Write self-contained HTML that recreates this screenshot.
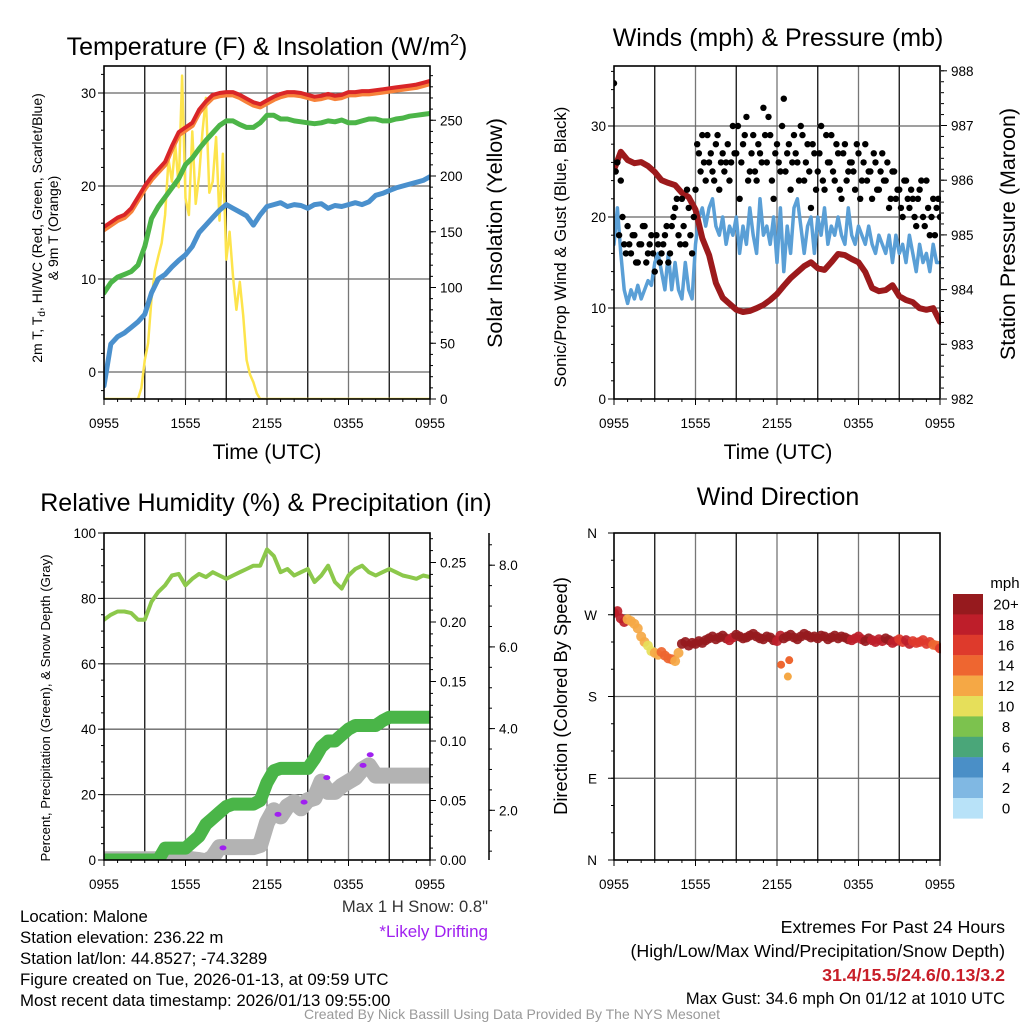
<!DOCTYPE html>
<html><head><meta charset="utf-8"><style>
html,body{margin:0;padding:0;background:#fff;}
svg{display:block;font-family:"Liberation Sans",sans-serif;}
</style></head><body>
<svg id="c" width="1024" height="1024" viewBox="0 0 1024 1024" xmlns="http://www.w3.org/2000/svg">
<defs>
<clipPath id="clip1"><rect x="104" y="66" width="326" height="333"/></clipPath>
<clipPath id="clip2"><rect x="614" y="66" width="327" height="333"/></clipPath>
<clipPath id="clip3"><rect x="104" y="533" width="326" height="327"/></clipPath>
<clipPath id="clip4"><rect x="614" y="533" width="327" height="327"/></clipPath>
</defs>
<rect x="0" y="0" width="1024" height="1024" fill="#fff"/>
<!-- titles -->
<text x="267" y="55" font-size="25" text-anchor="middle">Temperature (F) &amp; Insolation (W/m<tspan dy="-10" font-size="16">2</tspan><tspan dy="10">)</tspan></text>
<text x="778" y="46" font-size="25" text-anchor="middle">Winds (mph) &amp; Pressure (mb)</text>
<text x="266" y="511" font-size="25" text-anchor="middle">Relative Humidity (%) &amp; Precipitation (in)</text>
<text x="778" y="505" font-size="25" text-anchor="middle">Wind Direction</text>
<!-- axis titles -->
<text x="267" y="459" font-size="21" text-anchor="middle">Time (UTC)</text>
<text x="778" y="459" font-size="21" text-anchor="middle">Time (UTC)</text>
<text transform="translate(42,228) rotate(-90)" font-size="14" text-anchor="middle">2m T, T<tspan dy="3" font-size="10">d</tspan><tspan dy="-3">, HI/WC (Red, Green, Scarlet/Blue)</tspan></text>
<text transform="translate(58,228) rotate(-90)" font-size="14" text-anchor="middle">&amp; 9m T (Orange)</text>
<text transform="translate(502,233) rotate(-90)" font-size="21.5" text-anchor="middle">Solar Insolation (Yellow)</text>
<text transform="translate(566,247) rotate(-90)" font-size="16.8" text-anchor="middle">Sonic/Prop Wind &amp; Gust (Blue, Black)</text>
<text transform="translate(1015,234) rotate(-90)" font-size="21.5" text-anchor="middle">Station Pressure (Maroon)</text>
<text transform="translate(50,708) rotate(-90)" font-size="13.2" text-anchor="middle">Percent, Precipitation (Green), &amp; Snow Depth (Gray)</text>
<text transform="translate(567,696) rotate(-90)" font-size="18.3" text-anchor="middle">Direction (Colored By Speed)</text>
<!-- footer -->
<g font-size="16.8">
<text x="20" y="922">Location: Malone</text>
<text x="20" y="943">Station elevation: 236.22 m</text>
<text x="20" y="964">Station lat/lon: 44.8527; -74.3289</text>
<text x="20" y="985">Figure created on Tue, 2026-01-13, at 09:59 UTC</text>
<text x="20" y="1006">Most recent data timestamp: 2026/01/13 09:55:00</text>
</g>
<text x="488" y="912" font-size="16.6" text-anchor="end" fill="#333">Max 1 H Snow: 0.8"</text>
<text x="488" y="937" font-size="17" text-anchor="end" fill="#a020f0">*Likely Drifting</text>
<g font-size="17.8" text-anchor="end">
<text x="1005" y="933">Extremes For Past 24 Hours</text>
<text x="1005" y="957">(High/Low/Max Wind/Precipitation/Snow Depth)</text>
<text x="1005" y="981" fill="#c81e28" font-weight="bold">31.4/15.5/24.6/0.13/3.2</text>
<text x="1005" y="1004" font-size="16.5">Max Gust: 34.6 mph On 01/12 at 1010 UTC</text>
</g>
<text x="512" y="1019" font-size="14" text-anchor="middle" fill="#999">Created By Nick Bassill Using Data Provided By The NYS Mesonet</text>
<g id="g"></g>
</svg>
<script>
// ---- data (index-based, evenly spaced over 24 h from 0955 to 0955) ----
const timeLabels = ["0955","1555","2155","0355","0955"];
const tempRed = [15.6,16.1,16.6,16.9,17.6,18.8,20.0,21.0,21.8,22.6,24.3,25.8,26.3,26.8,28.2,29.1,29.8,30.0,30.1,30.1,29.8,29.4,29.0,28.8,29.2,29.6,29.9,30.1,30.1,30.0,29.8,29.6,29.7,29.9,29.7,29.8,30.1,30.1,30.2,30.2,30.3,30.4,30.5,30.6,30.7,30.8,30.9,31.1,31.3];
const temp9m = [15.3,15.8,16.3,16.6,17.3,18.5,19.7,20.7,21.5,22.3,24.0,25.5,26.0,26.5,27.9,28.8,29.5,29.7,29.8,29.8,29.5,29.1,28.7,28.5,28.9,29.3,29.6,29.8,29.8,29.7,29.5,29.3,29.4,29.6,29.4,29.5,29.8,29.8,29.9,29.9,30.0,30.1,30.2,30.3,30.4,30.5,30.6,30.8,31.0];
const dewGreen = [8.5,9.6,10.2,10.5,10.8,11.5,13.5,16.5,17.8,18.8,19.8,20.8,22.3,23.0,24.0,24.9,25.7,26.5,27.0,27.0,26.6,26.3,26.3,26.8,27.6,27.6,27.2,27.2,27.0,26.9,26.8,26.7,26.8,27.0,26.9,27.1,26.8,26.8,27.0,27.2,27.2,27.0,27.0,27.2,27.3,27.5,27.6,27.7,27.8];
const wcBlue = [-1.5,3.0,3.8,4.2,4.8,5.4,6.2,8.5,10.0,10.5,11.3,12.0,12.6,13.5,15.0,15.8,16.6,17.4,18.0,17.6,17.2,16.8,15.8,16.9,17.8,18.0,18.2,17.8,18.0,17.9,17.6,18.0,18.1,17.6,17.9,17.8,18.0,18.2,18.0,18.3,19.0,19.2,19.5,19.8,20.0,20.2,20.4,20.6,21.0];
const insolation = [0,0,0,0,0,0,0,0,0,0,0,10,35,50,90,115,128,140,165,215,195,228,190,290,180,165,240,175,200,240,270,185,195,235,160,220,125,150,110,80,105,75,35,22,15,5,0,0,0,0,0,0,0,0,0,0,0,0,0,0,0,0,0,0,0,0,0,0,0,0,0,0,0,0,0,0,0,0,0,0,0,0,0,0,0,0,0,0,0,0,0,0,0,0,0,0,0];
const windSpeed = [17,21,16,12,10.5,12,11,12.5,11,12,13,12.5,15,16,14,12,16,12,15,12,11,15,12,11,17,20,21,19,21,22,19,18,20,17,19,18,20,16,19,17,21,18,16,22,18,19,17,20,15,21,14,19,16,21,22,19,16,19,20,16,20,18,21,17,19,18,20,18,17,21,18,17,19,18,17,19,17,16,18,17,16,18,15,18,16,17,15,18,16,14,17,15,16,14,17,15,15];
const windGust = [34.7,26,24,17,19,16,18,15,17,19,16,18,14,17,16,18,15,19,21,18,22,17,21,16,23,27,29,24,26,25,28,23,27,26,24,30,27,22,28,31,25,29,24,27,32,26,29,22,28,25,33,27,23,29,26,30,24,28,21,27,25,30,23,26,29,24,27,22,28,25,26,23,27,24,28,25,22,26,23,27,24,21,25,22,23,20,24,21,22,19,23,20,24,18,22,21,20];
const windGustB = [25,18,20,16,17,18,15,17,19,15,17,16,18,15,17,19,16,20,22,17,19,23,18,20,28,25,26,29,27,24,29,26,25,28,26,27,30,26,29,24,27,25,28,26,29,31,24,27,26,30,25,28,26,27,24,29,26,25,28,23,27,24,29,26,25,28,23,27,24,26,25,28,22,26,24,25,27,23,25,24,26,22,25,23,21,24,22,23,20,22,24,19,21,20,18,22];
const pressure = [986.19,986.52,986.37,986.31,986.33,986.26,986.15,986.00,985.95,985.91,985.77,985.69,985.46,984.94,984.63,984.12,983.85,983.74,983.63,983.59,983.61,983.66,983.72,983.81,983.92,984.07,984.21,984.32,984.43,984.50,984.39,984.36,984.50,984.65,984.63,984.56,984.50,984.32,984.03,983.97,983.99,984.08,983.88,983.81,983.77,983.66,983.63,983.66,983.41];
const rh = [73.5,75,76,76,75.5,73.5,73.5,79,82,84,87,87.5,84,86,87.5,86.5,88,87,86,87,88,89,90,90,95,93,88,89,87,88,89,85,87,90,85,83,87,89,90,88,87,88,89,88,87,86.5,86,87,86.5];
const precip = [0,0,0,0,0,0,0,0,0,0.01,0.01,0.01,0.01,0.015,0.02,0.03,0.035,0.04,0.045,0.047,0.047,0.047,0.047,0.05,0.065,0.075,0.077,0.077,0.077,0.077,0.077,0.085,0.095,0.1,0.1,0.105,0.11,0.113,0.113,0.113,0.113,0.117,0.12,0.12,0.12,0.12,0.12,0.12,0.12];
const snow = [0.8,0.8,0.8,0.8,0.8,0.8,0.8,0.8,0.8,0.8,0.83,0.83,0.83,0.8,0.78,0.75,0.85,1.1,1.1,1.1,1.1,1.1,1.1,1.15,1.7,2.0,1.85,2.1,2.2,2.05,2.25,2.3,2.7,2.45,2.45,2.6,2.7,2.8,3.0,3.1,2.85,2.85,2.85,2.85,2.85,2.85,2.85,2.85,2.85];
const driftTimes = [8.76,12.81,14.73,16.4,19.07,19.6];
const driftSnow = [1.08,1.9,2.2,2.8,3.1,3.36];
const windDir = [272,274,266,262,265,263,260,255,246,240,236,230,228,226,229,225,222,221,219,228,238,240,236,239,238,241,239,242,244,246,243,245,247,244,242,245,248,246,244,245,247,249,246,244,243,246,245,242,241,247,244,246,248,245,243,246,249,247,245,246,244,247,246,243,245,247,244,246,245,243,242,244,246,243,241,244,242,240,243,241,244,242,239,241,243,240,242,238,241,239,240,242,238,240,237,236,233];
const dirSpeed = [19,18,13,12,12,11,13,14,14,13,20,21,21,21,21,21,21,19,21,21,21,21,21,21,19,21,21,21,21,21,21,21,21,21,21,19,19,20,18,19,20,18,17,18,16,17,16,15,16];
const outTimes = [12.3,12.9,12.8];
const outDirs = [215,220,202];
const outSpeeds = [14,14,12];
const cbLabels = ["20+","18","16","14","12","10","8","6","4","2","0"];
const cbColors = ["#961a1e","#be1e2a","#de3a2c","#ee6630","#f5a845","#e6df5a","#7cc24e","#4aa679","#4a8fc7","#80b8e3","#b8e2f8"];

const NS="http://www.w3.org/2000/svg";
const root=document.getElementById('g');
function mk(tag,attrs,parent){const e=document.createElementNS(NS,tag);for(const k in attrs)e.setAttribute(k,attrs[k]);(parent||root).appendChild(e);return e;}
const W=326/24;
function tx(x0,t){return x0+t*W;}
function tAt(arr,i){return i*24/(arr.length-1);}
const yTemp=v=>372-(v)*9.3;
const yIns=v=>399-v*1.115;
const yWind=v=>399-v*9.1;
const yPres=v=>399-(v-982)*54.7;
const yRH=v=>860-v*3.27;
const yPrec=v=>860-v*1190;
const ySnow=v=>892-v*40.85;
const yDir=v=>860-v*(327/360);

function grid(x0,y0,y1,hys){
  const g=mk('g',{});
  
  
  for(let h=3;h<24;h+=3){const x=tx(x0,h);mk('line',{x1:x,y1:y0,x2:x,y2:y1,stroke:(h%6===0)?'#777':'#111','stroke-width':1.3},g);}
  hys.forEach(y=>mk('line',{x1:x0,y1:y,x2:x0+326,y2:y,stroke:'#666','stroke-width':1.3},g));
}
function frame(x0,y0,y1){const r=mk('rect',{x:x0,y:y0,width:326,height:y1-y0,fill:'none',stroke:'#000','stroke-width':1.6});
  
  }
function xAxis(x0,y1,ly){
  const g=mk('g',{'font-size':13.5,'text-anchor':'middle'});
  
  
  for(let h=0;h<=24;h++){const x=tx(x0,h);mk('line',{x1:x,y1:y1,x2:x,y2:y1+(h%6===0?6:3),stroke:'#000'},g);}
  timeLabels.forEach((l,i)=>{const t=mk('text',{x:tx(x0,i*6),y:ly},g);t.textContent=l;});
}
function yAxis(x,ticks,fy,labels,side,minor,anchorX){
  const g=mk('g',{'font-size':13.5,'text-anchor':side<0?'end':'start'});
  
  
  minor.forEach(v=>mk('line',{x1:x,y1:fy(v),x2:x+side*3,y2:fy(v),stroke:'#000'},g));
  ticks.forEach((v,i)=>{const y=fy(v);mk('line',{x1:x,y1:y,x2:x+side*6,y2:y,stroke:'#000'},g);
    const t=mk('text',{x:anchorX,y:y+5},g);t.textContent=labels[i];});
}
function path(arr,x0,fy,attrs,clip,name){
  let d='';arr.forEach((v,i)=>{d+=(i?'L':'M')+tx(x0,tAt(arr,i)).toFixed(1)+','+fy(v).toFixed(1);});
  const p=mk('path',Object.assign({d:d,fill:'none','stroke-linejoin':'round','stroke-linecap':'round','clip-path':'url(#'+clip+')'},attrs));
  
  
  return p;
}
function range(a,b,s){const r=[];for(let v=a;v<=b+1e-9;v+=s)r.push(+v.toFixed(4));return r;}

// ---------- Panel 1 ----------
grid(104,66,399,[0,10,20,30].map(yTemp));
path(insolation,104,yIns,{stroke:'#fde44c','stroke-width':2.5},'clip1','insolation-line');
path(wcBlue,104,yTemp,{stroke:'#4a90cd','stroke-width':5},'clip1','windchill-line');
path(dewGreen,104,yTemp,{stroke:'#4cb548','stroke-width':5},'clip1','dewpoint-line');
path(temp9m,104,yTemp,{stroke:'#f7823a','stroke-width':5},'clip1','temp-9m-line');
path(tempRed,104,yTemp,{stroke:'#d92528','stroke-width':4},'clip1','temp-2m-line');
frame(104,66,399);
xAxis(104,399,428);
yAxis(104,[0,10,20,30],yTemp,["0","10","20","30"],-1,range(-2,32,2),96);
yAxis(430,[0,50,100,150,200,250],yIns,["0","50","100","150","200","250"],1,range(0,290,10),440);

// ---------- Panel 2 ----------
grid(614,66,399,[10,20,30].map(yWind));
path(windSpeed,614,yWind,{stroke:'#5a9fd6','stroke-width':3.5},'clip2','wind-speed-line');
path(pressure,614,yPres,{stroke:'#9c1a1c','stroke-width':6},'clip2','pressure-line');
const gg=mk('g',{'clip-path':'url(#clip2)'});


windGust.forEach((v,i)=>{const c=mk('circle',{cx:tx(614,tAt(windGust,i)),cy:yWind(v),r:3.2,fill:'#000'},gg);
  
  });
windGustB.forEach((v,i)=>{const c=mk('circle',{cx:tx(614,(i+0.5)*24/windGustB.length),cy:yWind(v),r:3.2,fill:'#000'},gg);
  
  });
frame(614,66,399);
xAxis(614,399,428);
yAxis(614,[0,10,20,30],yWind,["0","10","20","30"],-1,range(0,36,2),606);
yAxis(941,[982,983,984,985,986,987,988],yPres,["982","983","984","985","986","987","988"],1,range(982,988,0.2),951);

// ---------- Panel 3 ----------
grid(104,533,860,[20,40,60,80].map(yRH));
path(snow,104,ySnow,{stroke:'#b3b3b3','stroke-width':16},'clip3','snow-depth-line');
path(precip,104,yPrec,{stroke:'#4ab548','stroke-width':13},'clip3','precip-line');
path(rh,104,yRH,{stroke:'#8cc84b','stroke-width':4},'clip3','humidity-line');
driftTimes.forEach((t,i)=>{const e=mk('ellipse',{cx:tx(104,t),cy:ySnow(driftSnow[i]),rx:3.5,ry:2.5,fill:'#a020f0'});
  
  });
frame(104,533,860);
xAxis(104,860,889);
yAxis(104,[0,20,40,60,80,100],yRH,["0","20","40","60","80","100"],-1,range(0,100,5),96);
yAxis(430,[0,0.05,0.1,0.15,0.2,0.25],yPrec,["0.00","0.05","0.10","0.15","0.20","0.25"],1,range(0,0.27,0.01),440);
const sl=mk('line',{x1:489,y1:533,x2:489,y2:860,stroke:'#000','stroke-width':1.5});


yAxis(489,[2,4,6,8],ySnow,["2.0","4.0","6.0","8.0"],1,range(1,8,1).concat(range(0.5,8.5,1)).filter(v=>ySnow(v)>=533&&ySnow(v)<=860),499);

// ---------- Panel 4 ----------
grid(614,533,860,[90,180,270].map(yDir));
function spdColor(s){let idx=10-Math.min(10,Math.floor(s/2));return cbColors[idx];}
const dg=mk('g',{'clip-path':'url(#clip4)'});


windDir.forEach((v,i)=>{const s=dirSpeed[Math.floor(i/2)];const c=mk('circle',{cx:tx(614,tAt(windDir,i)),cy:yDir(v),r:5,fill:spdColor(s),'fill-opacity':0.92},dg);
  
  });
outTimes.forEach((t,i)=>{const c=mk('circle',{cx:tx(614,t),cy:yDir(outDirs[i]),r:4,fill:spdColor(outSpeeds[i])},dg);
  
  });
frame(614,533,860);
xAxis(614,860,889);
yAxis(614,[0,90,180,270,360],yDir,["N","E","S","W","N"],-1,range(0,360,30),597);
const cb=mk('g',{'font-size':15,'text-anchor':'middle'});


const mph=mk('text',{x:1005,y:588},cb);mph.textContent='mph';
cbLabels.forEach((l,i)=>{const y=594+i*20.4;
  const r=mk('rect',{x:953,y:y,width:30,height:20.6,fill:cbColors[i]},cb);
  
  
  const t=mk('text',{x:1006,y:y+15.5},cb);t.textContent=l;});
</script>
</body></html>
